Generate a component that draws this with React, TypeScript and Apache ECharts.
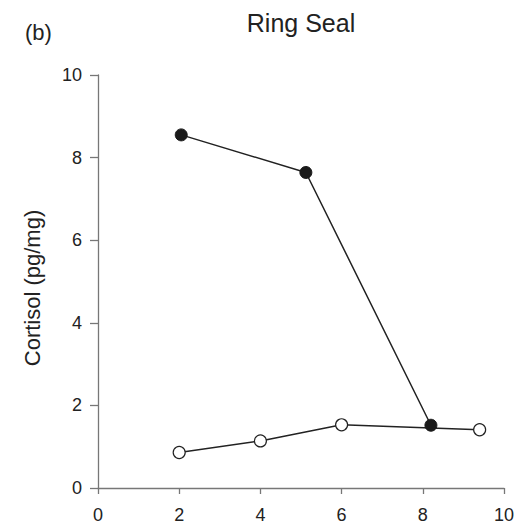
import React, { useEffect, useRef } from "react";
import * as echarts from "echarts";

const filledX = [2.05, 5.12, 8.2];
const filledY = [8.55, 7.64, 1.52];
const openX = [2.0, 4.0, 6.0, 8.2, 9.4];
const openY = [0.86, 1.14, 1.53, 1.45, 1.41];
const openHidden = [false, false, false, true, false];
const titleText = "Ring Seal";
const panelLabel = "(b)";
const yName = "Cortisol (pg/mg)";

export default function App() {
  const ref = useRef<HTMLDivElement>(null);
  useEffect(() => {
    if (!ref.current) return;
    const chart = echarts.init(ref.current, undefined, { renderer: "svg" });
    const font = "Liberation Sans, Arial, Helvetica, sans-serif";
    const axisCommon = {
      type: "value" as const,
      min: 0,
      max: 10,
      interval: 2,
      splitLine: { show: false },
      axisLine: { show: true, onZero: false, lineStyle: { color: "#777", width: 1.3 } },
    };
    chart.setOption({
      animation: false,
      backgroundColor: "#fff",
      grid: { left: 98, right: 27, top: 75, bottom: 43, containLabel: false },
      xAxis: {
        ...axisCommon,
        axisTick: { show: true, length: 6, lineStyle: { color: "#777", width: 1.3 } },
        axisLabel: { color: "#222", fontSize: 18, fontFamily: font, margin: 18 },
      },
      yAxis: {
        ...axisCommon,
        axisTick: { show: true, length: 8, lineStyle: { color: "#777", width: 1.3 } },
        axisLabel: { color: "#222", fontSize: 18, fontFamily: font, margin: 16 },
      },
      graphic: [
        {
          type: "text",
          x: 301,
          y: 23,
          style: { text: titleText, fontSize: 25, fontFamily: font, fill: "#222", textAlign: "center", textVerticalAlign: "middle" },
        },
        {
          type: "text",
          x: 25,
          y: 32,
          style: { text: panelLabel, fontSize: 22, fontFamily: font, fill: "#222", textAlign: "left", textVerticalAlign: "middle" },
        },
        {
          type: "text",
          x: 32,
          y: 288,
          rotation: Math.PI / 2,
          style: { text: yName, fontSize: 22, fontFamily: font, fill: "#222", textAlign: "center", textVerticalAlign: "middle" },
        },
      ],
      series: [
        {
          type: "line",
          data: openX.map((x, i) => ({
            value: [x, openY[i]],
            itemStyle: openHidden[i] ? { opacity: 0 } : undefined,
          })),
          symbol: "circle",
          symbolSize: 12,
          z: 2,
          lineStyle: { color: "#222", width: 1.5 },
          itemStyle: { color: "#fff", borderColor: "#222", borderWidth: 1.2 },
        },
        {
          type: "line",
          data: filledX.map((x, i) => [x, filledY[i]]),
          symbol: "circle",
          symbolSize: 12,
          z: 3,
          lineStyle: { color: "#222", width: 1.5 },
          itemStyle: { color: "#1a1a1a", borderColor: "#1a1a1a", borderWidth: 1 },
        },
      ],
    });
    return () => chart.dispose();
  }, []);
  return (
    <div
      ref={ref}
      style={{ position: "fixed", left: 0, top: 0, width: 531, height: 531, background: "#fff" }}
    />
  );
}
